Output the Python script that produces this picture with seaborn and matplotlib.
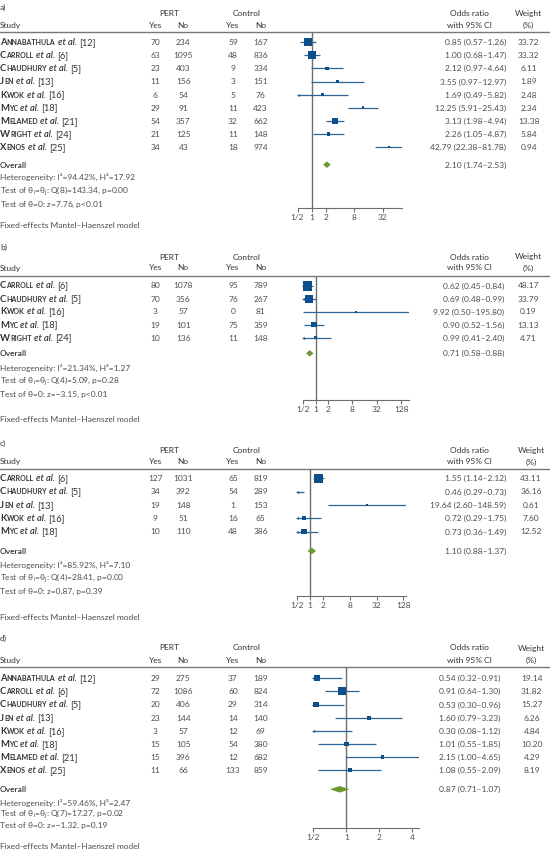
import numpy as np
import pandas as pd
import seaborn as sns
import matplotlib.pyplot as plt
from matplotlib.lines import Line2D
from matplotlib.font_manager import FontProperties

sns.set_theme(style="white")
FAMILY = ['Lato', 'DejaVu Sans']
plt.rcParams['font.family'] = FAMILY
plt.rcParams['mathtext.fontset'] = 'custom'
plt.rcParams['mathtext.rm'] = 'Lato'
plt.rcParams['mathtext.it'] = 'Lato:italic'

# ---------------- data ----------------
a_names = ["Annabathula", "Carroll", "Chaudhury", "Jen", "Kwok", "Myc", "Melamed", "Wright", "Xenos"]
a_refs = ["12", "6", "5", "13", "16", "18", "21", "24", "25"]
a_pert_yes = [70, 63, 23, 11, 6, 29, 54, 21, 34]
a_pert_no = [234, 1095, 403, 156, 54, 91, 357, 125, 43]
a_ctl_yes = [59, 48, 9, 3, 5, 11, 32, 11, 18]
a_ctl_no = [167, 836, 334, 151, 76, 423, 662, 148, 974]
a_or = [0.85, 1.00, 2.12, 3.55, 1.69, 12.25, 3.13, 2.26, 42.79]
a_lo = [0.57, 0.68, 0.97, 0.97, 0.49, 5.91, 1.98, 1.05, 22.38]
a_hi = [1.26, 1.47, 4.64, 12.97, 5.82, 25.43, 4.94, 4.87, 81.78]
a_w = [33.72, 33.32, 6.11, 1.89, 2.48, 2.34, 13.38, 5.84, 0.94]
a_overall = [2.10, 1.74, 2.53]
a_stats = ["Heterogeneity: I²=94.42%, H²=17.92", "Q(8)=143.34, p=0.00", "$z$=7.76, p<0.01"]
a_ticks = [0.5, 1, 2, 8, 32]
a_ticklabels = ["1/2", "1", "2", "8", "32"]

b_names = ["Carroll", "Chaudhury", "Kwok", "Myc", "Wright"]
b_refs = ["6", "5", "16", "18", "24"]
b_pert_yes = [80, 70, 3, 19, 10]
b_pert_no = [1078, 356, 57, 101, 136]
b_ctl_yes = [95, 76, 0, 75, 11]
b_ctl_no = [789, 267, 81, 359, 148]
b_or = [0.62, 0.69, 9.92, 0.90, 0.99]
b_lo = [0.45, 0.48, 0.50, 0.52, 0.41]
b_hi = [0.84, 0.99, 195.80, 1.56, 2.40]
b_w = [48.17, 33.79, 0.19, 13.13, 4.71]
b_overall = [0.71, 0.58, 0.88]
b_stats = ["Heterogeneity: I²=21.34%, H²=1.27", "Q(4)=5.09, p=0.28", "z=\u22123.15, p<0.01"]
b_ticks = [0.5, 1, 2, 8, 32, 128]
b_ticklabels = ["1/2", "1", "2", "8", "32", "128"]

c_names = ["Carroll", "Chaudhury", "Jen", "Kwok", "Myc"]
c_refs = ["6", "5", "13", "16", "18"]
c_pert_yes = [127, 34, 19, 9, 10]
c_pert_no = [1031, 392, 148, 51, 110]
c_ctl_yes = [65, 54, 1, 16, 48]
c_ctl_no = [819, 289, 153, 65, 386]
c_or = [1.55, 0.46, 19.64, 0.72, 0.73]
c_lo = [1.14, 0.29, 2.60, 0.29, 0.36]
c_hi = [2.12, 0.73, 148.59, 1.75, 1.49]
c_w = [43.11, 36.16, 0.61, 7.60, 12.52]
c_overall = [1.10, 0.88, 1.37]
c_stats = ["Heterogeneity: I²=85.92%, H²=7.10", "Q(4)=28.41, p=0.00", "z=0.87, p=0.39"]
c_ticks = [0.5, 1, 2, 8, 32, 128]
c_ticklabels = ["1/2", "1", "2", "8", "32", "128"]

d_names = ["Annabathula", "Carroll", "Chaudhury", "Jen", "Kwok", "Myc", "Melamed", "Xenos"]
d_refs = ["12", "6", "5", "13", "16", "18", "21", "25"]
d_pert_yes = [29, 72, 20, 23, 3, 15, 15, 11]
d_pert_no = [275, 1086, 406, 144, 57, 105, 396, 66]
d_ctl_yes = [37, 60, 29, 14, 12, 54, 12, 133]
d_ctl_no = [189, 824, 314, 140, 69, 380, 682, 859]
d_or = [0.54, 0.91, 0.53, 1.60, 0.30, 1.01, 2.15, 1.08]
d_lo = [0.32, 0.64, 0.30, 0.79, 0.08, 0.55, 1.00, 0.55]
d_hi = [0.91, 1.30, 0.96, 3.23, 1.12, 1.85, 4.65, 2.09]
d_w = [19.14, 31.82, 15.27, 6.26, 4.84, 10.20, 4.29, 8.19]
d_overall = [0.87, 0.71, 1.07]
d_stats = ["Heterogeneity: I²=59.46%, H²=2.47", "Q(7)=17.27, p=0.02", "z=\u22121.32, p=0.19"]
d_ticks = [0.5, 1, 2, 4]
d_ticklabels = ["1/2", "1", "2", "4"]

panels = [
    dict(label="a)", names=a_names, refs=a_refs, py=a_pert_yes, pn=a_pert_no, cy=a_ctl_yes, cn=a_ctl_no,
         orr=a_or, lo=a_lo, hi=a_hi, w=a_w, ov=a_overall, stats=a_stats, ticks=a_ticks, tl=a_ticklabels,
         L=dict(letter=7, grp=13.3, sub=25, header=32.3, row0=42.3, step=13.1, overall=164.7,
                het=[177.3, 190.7, 204], axis=208, fe=225.7, x1=311.7, ppd=14.2, orx=506, wtx=528.7)),
    dict(label="b)", names=b_names, refs=b_refs, py=b_pert_yes, pn=b_pert_no, cy=b_ctl_yes, cn=b_ctl_no,
         orr=b_or, lo=b_lo, hi=b_hi, w=b_w, ov=b_overall, stats=b_stats, ticks=b_ticks, tl=b_ticklabels,
         L=dict(letter=246.7, grp=256.7, sub=267.7, header=275.7, row0=285.7, step=13.0, overall=353.3,
                het=[367.7, 380.7, 394], axis=400, fe=419, x1=315.7, ppd=12.2, orx=504.3, wtx=528.3)),
    dict(label="c)", names=c_names, refs=c_refs, py=c_pert_yes, pn=c_pert_no, cy=c_ctl_yes, cn=c_ctl_no,
         orr=c_or, lo=c_lo, hi=c_hi, w=c_w, ov=c_overall, stats=c_stats, ticks=c_ticks, tl=c_ticklabels,
         L=dict(letter=443.3, grp=450, sub=461.7, header=469, row0=478.3, step=13.35, overall=551,
                het=[565, 578.3, 591], axis=596, fe=616.7, x1=310, ppd=13.3, orx=506, wtx=531)),
    dict(label="d)", names=d_names, refs=d_refs, py=d_pert_yes, pn=d_pert_no, cy=d_ctl_yes, cn=d_ctl_no,
         orr=d_or, lo=d_lo, hi=d_hi, w=d_w, ov=d_overall, stats=d_stats, ticks=d_ticks, tl=d_ticklabels,
         L=dict(letter=638.3, grp=647.7, sub=660, header=667.3, row0=678.3, step=13.14, overall=789.3,
                het=[802.7, 814, 825], axis=828.3, fe=846, x1=346.3, ppd=33, orx=500, wtx=531.7)),
]

# ---------------- style ----------------
W, H = 550, 852
TXT = "#333333"
NUM = "#4d4d4d"
SQ = "#0d4f8b"
CI = "#2e6496"
DIA = "#6b9a33"
VL = "#6e6e6e"
BASE = 2.8  # baseline offset below row center, px

fig = plt.figure(figsize=(W / 100, H / 100), dpi=100)
renderer = fig.canvas.get_renderer()


def text_w(s, size, weight="normal", style="normal"):
    fp = FontProperties(family=FAMILY, size=size, weight=weight, style=style)
    return renderer.get_text_width_height_descent(s, fp, ismath=False)[0]


# fit font size to the reference's measured text widths (px)
targets = [("Heterogeneity: I\u00b2=94.42%, H\u00b2=17.92", 137.0),
           ("Fixed-effects Mantel\u2013Haenszel model", 143.0),
           ("42.79 (22.38\u201381.78)", 73.7),
           ("0.85 (0.57\u20131.26)", 60.0)]
FS = float(np.mean([10 * t / text_w(s, 10) for s, t in targets]))


def name_width(name, ref, nfs):
    return (text_w(name[0], nfs + 0.3, "bold") + 0.2 + text_w(name[1:].upper(), nfs * 0.78, "bold") + 2.3
            + text_w("et al.", nfs + 0.2, "semibold", "italic") + 2.1 + text_w("[" + ref + "]", nfs + 0.2))


name_targets = [("Annabathula", "12", 93.3), ("Chaudhury", "5", 80.0), ("Melamed", "21", 75.0)]
NFS = float(np.mean([10 * t / name_width(nm, rf, 10) for nm, rf, t in name_targets]))


def fx(x):
    return x / W


def fy(y):
    return 1 - y / H


def put(x, y, s, ha="left", **kw):
    kw.setdefault("color", TXT)
    kw.setdefault("fontsize", FS)
    return fig.text(fx(x), fy(y + BASE), s, ha=ha, va="baseline", **kw)


def study_label(x, y, name, ref):
    t = put(x, y, name[0], fontweight="bold", fontsize=NFS + 0.3)
    x += t.get_window_extent(renderer).width + 0.2
    t = put(x, y, name[1:].upper(), fontweight="bold", fontsize=NFS * 0.78)
    x += t.get_window_extent(renderer).width + 2.3
    t = put(x, y, "et al.", fontstyle="italic", fontweight="semibold", fontsize=NFS + 0.2)
    x += t.get_window_extent(renderer).width + 2.1
    put(x, y, "[" + ref + "]", fontsize=NFS + 0.2)


for P in panels:
    L = P["L"]
    n = len(P["names"])
    rows_px = [L["row0"] + i * L["step"] for i in range(n)]

    # headers
    put(0, L["letter"], P["label"])
    put(169.5, L["grp"], "PERT", ha="center")
    put(246.7, L["grp"], "Control", ha="center")
    put(0, L["sub"], "Study")
    for xx, s in [(155.3, "Yes"), (183.3, "No"), (233, "Yes"), (260.5, "No")]:
        put(xx, L["sub"], s, ha="center")
    put(469.3, L["grp"], "Odds ratio", ha="center")
    put(469.3, L["sub"], "with 95% CI", ha="center")
    put(L["wtx"], L["grp"], "Weight", ha="center")
    put(L["wtx"], L["sub"], "(%)", ha="center")
    fig.add_artist(Line2D([0, 1], [fy(L["header"]), fy(L["header"])], transform=fig.transFigure,
                          color="#777777", lw=1.0))

    # table rows
    for i in range(n):
        y = rows_px[i]
        study_label(0, y, P["names"][i], P["refs"][i])
        for xx, col in [(155.3, "py"), (183.3, "pn"), (233, "cy"), (260.5, "cn")]:
            put(xx, y, str(P[col][i]), ha="center", color=NUM)
        put(L["orx"], y, f"{P['orr'][i]:.2f} ({P['lo'][i]:.2f}\u2013{P['hi'][i]:.2f})", ha="right", color=NUM)
        put(L["wtx"], y, f"{P['w'][i]:.2f}", ha="center", color=NUM)

    ov = P["ov"]
    put(0, L["overall"], "Overall", fontweight="semibold")
    put(L["orx"], L["overall"], f"{ov[0]:.2f} ({ov[1]:.2f}\u2013{ov[2]:.2f})", ha="right", color=NUM)
    put(0, L["het"][0], P["stats"][0], color=NUM)
    put(0, L["het"][1], "Test of \u03b8$_i$=\u03b8$_j$: " + P["stats"][1], color=NUM)
    put(0, L["het"][2], "Test of \u03b8=0: " + P["stats"][2], color=NUM)
    put(0, L["fe"], "Fixed-effects Mantel\u2013Haenszel model", color=NUM)

    # forest axes
    xmin = 0.5
    xmax = max(P["hi"])
    left_px = L["x1"] + L["ppd"] * np.log2(xmin)
    right_px = L["x1"] + L["ppd"] * np.log2(xmax)
    ax = fig.add_axes([fx(left_px), fy(L["axis"]), (right_px - left_px) / W, (L["axis"] - L["header"]) / H])
    ax.set_facecolor("none")
    ax.set_xscale("log", base=2)
    ax.set_xlim(xmin, xmax)
    top_row = (L["header"] - L["row0"]) / L["step"]
    bot_row = (L["axis"] - L["row0"]) / L["step"]
    ax.set_ylim(bot_row, top_row)

    df = pd.DataFrame(dict(row=np.arange(n), orr=P["orr"], lo=P["lo"], hi=P["hi"], w=P["w"]))
    df["lo_c"] = df["lo"].clip(lower=xmin)
    df["hi_c"] = df["hi"].clip(upper=xmax)
    ax.hlines(df["row"], df["lo_c"], df["hi_c"], color=CI, lw=0.9, zorder=2)
    arr = df[df["lo"] < xmin]
    ax.scatter(arr["lo_c"], arr["row"], marker="<", s=5, color=CI, lw=0, clip_on=False, zorder=3)
    vis = df[df["orr"] >= xmin]
    sns.scatterplot(data=vis, x="orr", y="row", size="w", sizes=(1.5, 101.5), size_norm=(0, 100),
                    marker="s", color=SQ, linewidth=0, legend=False, ax=ax, zorder=4)
    ov_row = (L["overall"] - L["row0"]) / L["step"]
    h = 3.3 / L["step"]
    ax.fill([ov[1], ov[0], ov[2], ov[0]], [ov_row, ov_row - h, ov_row, ov_row + h], color=DIA, lw=0, zorder=4)
    ax.axvline(1, color=VL, lw=1.0, zorder=1)

    ax.set_xlabel("")
    ax.set_ylabel("")
    ax.set_yticks([])
    ax.minorticks_off()
    ax.set_xticks(P["ticks"])
    ax.set_xticklabels(P["tl"])
    ax.xaxis.set_minor_locator(plt.NullLocator())
    ax.tick_params(axis="x", bottom=True, length=3, width=0.8, color=VL, pad=1.2, labelsize=FS, labelcolor=NUM)
    for side in ["top", "left", "right"]:
        ax.spines[side].set_visible(False)
    ax.spines["bottom"].set_color(VL)
    ax.spines["bottom"].set_linewidth(0.8)

fig.savefig("out.png", dpi=100)
